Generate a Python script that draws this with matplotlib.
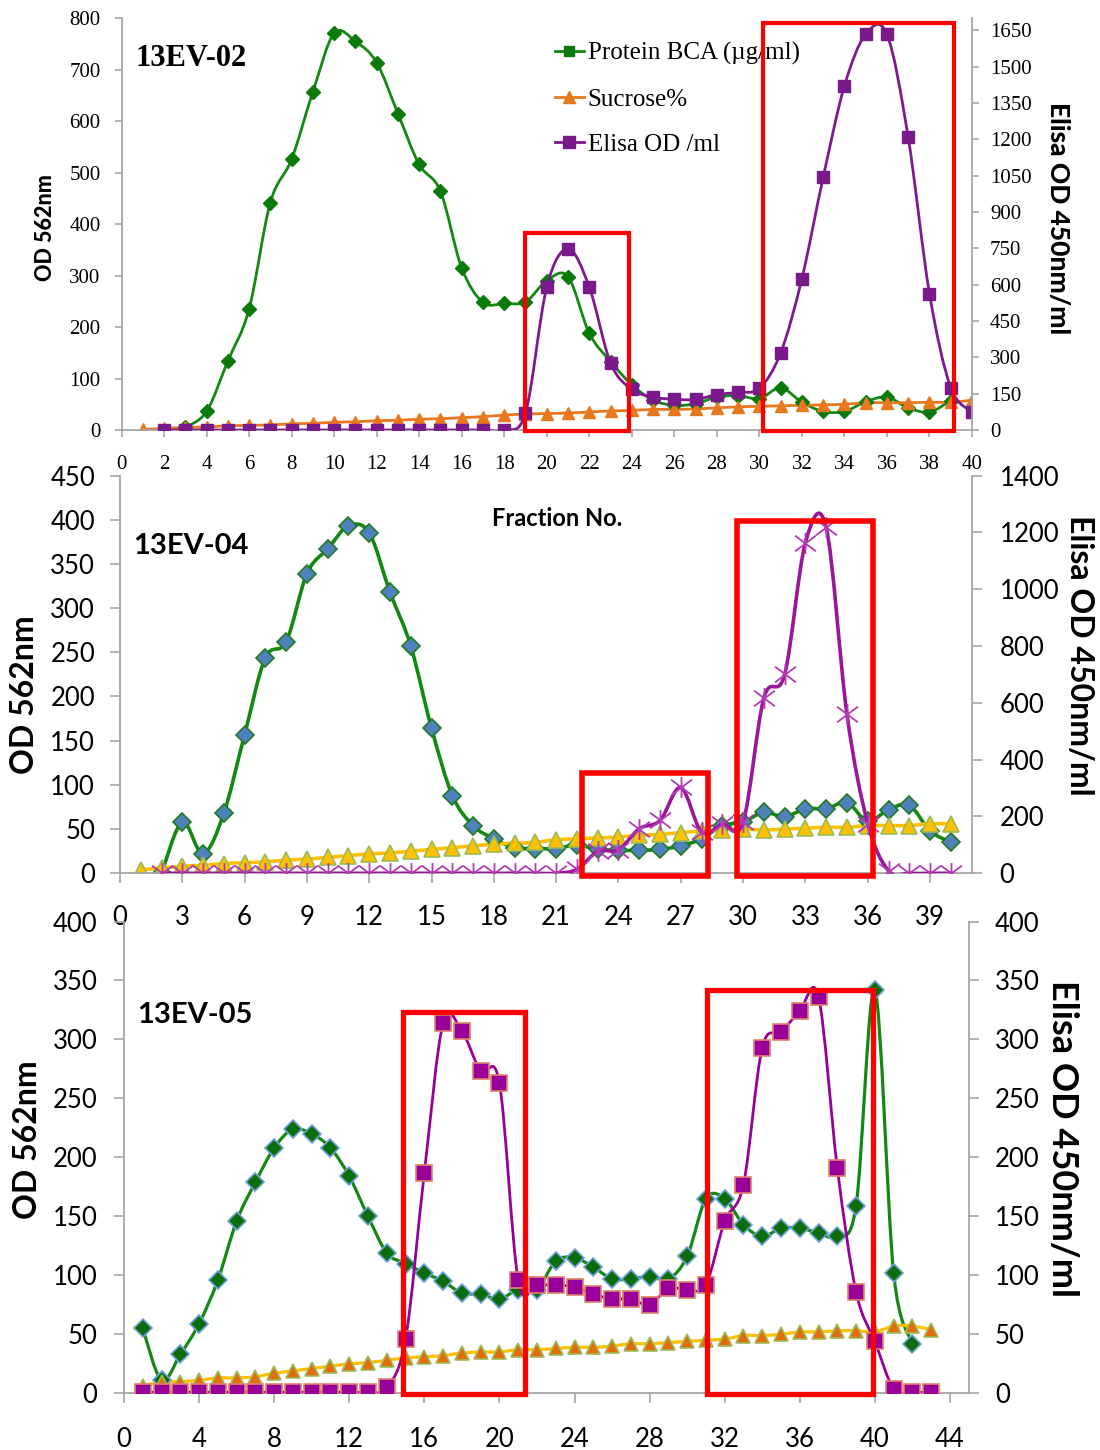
import numpy as np
import matplotlib
matplotlib.use("Agg")
import matplotlib.pyplot as plt
from matplotlib.path import Path
from matplotlib.patches import PathPatch, Rectangle
from matplotlib.lines import Line2D

W, H = 1100, 1450

# ---- 13EV-02 ----
ev02_frac = list(range(1, 41))
ev02_protein_frac = list(range(3, 40))
ev02_protein = [5, 36, 134, 235, 442, 526, 657, 771, 755, 714, 615, 516, 464, 315, 248, 246,
                249, 290, 298, 188, 133, 88, 58, 48, 51, 64, 67, 61, 82, 54, 36, 36, 55, 64,
                43, 35, 57]
ev02_sucrose = [1, 3, 5, 6, 8, 9, 10, 12, 13, 15, 16, 18, 19, 21, 22, 24, 26, 29, 31, 32,
                33, 35, 37, 38, 40, 40, 41, 43, 45, 46, 47, 48, 49, 50, 53, 53, 53, 54, 54, 58]
ev02_elisa_frac = list(range(2, 41))
ev02_elisa = [0] * 17 + [70, 590, 748, 590, 277, 168, 136, 127, 126, 146, 156, 172, 318,
                         625, 1043, 1421, 1634, 1634, 1208, 563, 175, 75]
ev02_boxes = [(18.98, 23.89, -1, 382), (30.19, 39.13, -1, 790)]

# ---- 13EV-04 ----
ev04_frac = list(range(1, 41))
ev04_protein_frac = list(range(2, 41))
ev04_protein = [0, 58, 22, 68, 157, 244, 262, 339, 367, 393, 385, 318, 257, 164, 88, 54, 39,
                29, 28, 28, 32, 27, 26, 26, 27, 31, 39, 54, 58, 69, 64, 73, 73, 80, 59, 72,
                77, 48, 35]
ev04_sucrose = [4, 6, 8, 9, 11, 12, 13, 15, 16, 18, 20, 22, 23, 25, 27, 29, 31, 33, 34, 35,
                38, 39, 40, 41, 43, 44, 46, 48, 49, 50, 49, 50, 51, 52, 52, 54, 54, 54, 56, 56]
ev04_elisa_frac = list(range(2, 41))
ev04_elisa = [0] * 20 + [14, 77, 83, 157, 186, 302, 145, 172, 180, 617, 700, 1164, 1217,
                         559, 175, 9, 0, 0, 0]
ev04_boxes = [(22.26, 28.33, -3, 113), (29.69, 36.27, -3, 398)]

# ---- 13EV-05 ----
ev05_frac = list(range(1, 44))
ev05_protein_frac = list(range(1, 43))
ev05_protein = [55, 11, 33, 59, 96, 146, 179, 208, 224, 220, 208, 184, 150, 119, 110, 102,
                95, 85, 84, 80, 88, 88, 112, 115, 107, 97, 97, 99, 97, 116, 165, 165, 143,
                133, 140, 140, 136, 133, 159, 342, 102, 42]
ev05_sucrose = [6, 10, 10, 11, 13, 13, 14, 17, 19, 21, 23, 25, 26, 28, 30, 31, 32, 34, 35,
                35, 37, 37, 38, 39, 39, 40, 42, 42, 43, 44, 45, 46, 49, 49, 50, 52, 52, 53,
                53, 52, 57, 57, 54]
ev05_elisa = [1] * 13 + [5, 46, 187, 314, 307, 273, 263, 96, 92, 92, 90, 84, 80, 80, 75, 89,
                         88, 92, 146, 177, 293, 306, 324, 336, 191, 86, 44, 4, 1, 1]
ev05_boxes = [(14.85, 21.36, -1, 323), (31.04, 39.92, -1, 342)]


def px_box(l, t, r, b):
    return [l / W, 1 - b / H, (r - l) / W, (b - t) / H]


def smooth_path(x, y):
    # smoothed line like Excel: bezier segments through the points
    x = np.asarray(x, float)
    y = np.asarray(y, float)
    n = len(x)
    verts = [(x[0], y[0])]
    codes = [Path.MOVETO]
    for i in range(n - 1):
        xa, ya = (x[i - 1], y[i - 1]) if i > 0 else (x[i], y[i])
        xb, yb = (x[i + 2], y[i + 2]) if i + 2 < n else (x[i + 1], y[i + 1])
        c1 = (x[i] + (x[i + 1] - xa) / 6, y[i] + (y[i + 1] - ya) / 6)
        c2 = (x[i + 1] - (xb - x[i]) / 6, y[i + 1] - (yb - y[i]) / 6)
        verts += [c1, c2, (x[i + 1], y[i + 1])]
        codes += [Path.CURVE4] * 3
    return Path(verts, codes)


def series(ax, x, y, color, lw, marker, ms, mfc, mec, mew=1.0, z=2):
    ax.add_patch(PathPatch(smooth_path(x, y), fill=False, ec=color, lw=lw, zorder=z,
                           capstyle='round', joinstyle='round'))
    ax.plot(x, y, ls='none', marker=marker, ms=ms, mfc=mfc, mec=mec, mew=mew, zorder=z + 0.1)


def frame(ax, axr, fam, fs, lpad, rpad, bpad, tlen):
    grey = '#a6a6a6'
    ax.patch.set_visible(False)
    for s in ['top', 'right']:
        ax.spines[s].set_visible(False)
    for s in ['top', 'left', 'bottom']:
        axr.spines[s].set_visible(False)
    for s in ['left', 'bottom']:
        ax.spines[s].set_color(grey)
        ax.spines[s].set_linewidth(1.3)
    axr.spines['right'].set_color(grey)
    axr.spines['right'].set_linewidth(1.3)
    ax.tick_params(axis='y', length=tlen, width=1.2, color=grey, pad=lpad, labelsize=fs)
    ax.tick_params(axis='x', length=tlen, width=1.2, color=grey, pad=bpad, labelsize=fs)
    axr.tick_params(axis='y', length=tlen, width=1.2, color=grey, pad=rpad, labelsize=fs)
    for t in ax.get_xticklabels() + ax.get_yticklabels() + axr.get_yticklabels():
        t.set_family(fam)


def boxes(ax, axr, spans, lw):
    for x0, x1, y0, y1 in spans:
        axr.add_patch(Rectangle((x0, y0), x1 - x0, y1 - y0, transform=ax.transData,
                                fill=False, ec='#ff0000', lw=lw, clip_on=False, zorder=6))


def ftext(x, y, s, **kw):
    fig.text(x / W, 1 - y / H, s, ha='center', va='center', **kw)


fig = plt.figure(figsize=(11, 14.5), dpi=100)

serif = 'Liberation Serif'
sans = 'Lato'

# ---------------- panel 1 : 13EV-02 ----------------
ax1 = fig.add_axes(px_box(121.5, 18.3, 972, 430))
ax1r = ax1.twinx()
ax1.set_xlim(0, 40)
ax1.set_ylim(0, 800)
ax1r.set_ylim(0, 1700)
ax1.set_xticks(range(0, 41, 2))
ax1.set_yticks(range(0, 801, 100))
ax1r.set_yticks(range(0, 1651, 150))

series(ax1, ev02_protein_frac, ev02_protein, '#138813', 2.0, 'D', 7.5, '#0b7a0b', '#0b7a0b')
series(ax1, ev02_frac, ev02_sucrose, '#e8781e', 2.0, '^', 8.5, '#e8781e', '#e8781e')
series(ax1r, ev02_elisa_frac, ev02_elisa, '#7e1a8e', 2.0, 's', 8.5, '#7a1a8a', '#7a1a8a')
frame(ax1, ax1r, serif, 15, 10, 8, 13, 5)
boxes(ax1, ax1r, ev02_boxes, 3.0)

handles = [Line2D([], [], color='#138813', lw=2, marker='s', ms=7, mfc='#0b7a0b', mec='#0b7a0b'),
           Line2D([], [], color='#e8781e', lw=2, marker='^', ms=8, mfc='#e8781e', mec='#e8781e'),
           Line2D([], [], color='#7e1a8e', lw=2, marker='s', ms=8, mfc='#7a1a8a', mec='#7a1a8a')]
ax1r.legend(handles, ['Protein BCA (\u00b5g/ml)', 'Sucrose%', 'Elisa OD /ml'],
            loc='upper left', bbox_to_anchor=(555 / W, 1 - 42 / H), bbox_transform=fig.transFigure,
            frameon=False, prop={'family': serif, 'size': 18}, handlelength=1.15,
            handletextpad=0.15, labelspacing=0.92, borderpad=0, borderaxespad=0)

ftext(191, 58, '13EV-02', family=serif, weight='bold', fontsize=22)
ftext(45, 228, 'OD 562nm', family=sans, weight='black', fontsize=15.5, rotation=90)
ftext(1058, 218, 'Elisa OD 450nm/ml', family=sans, weight='black', fontsize=19, rotation=270)

# ---------------- panel 2 : 13EV-04 ----------------
ax2 = fig.add_axes(px_box(120, 475.5, 971.6, 873.3))
ax2r = ax2.twinx()
ax2.set_xlim(0, 41)
ax2.set_ylim(0, 450)
ax2r.set_ylim(0, 1400)
ax2.set_xticks(range(0, 40, 3))
ax2.set_yticks(range(0, 451, 50))
ax2r.set_yticks(range(0, 1401, 200))

star = Path([(0, -1), (0, 1), (-1, -0.75), (1, 0.75), (-1, 0.75), (1, -0.75)],
            [Path.MOVETO, Path.LINETO, Path.MOVETO, Path.LINETO, Path.MOVETO, Path.LINETO])

series(ax2, ev04_protein_frac, ev04_protein, '#138813', 2.6, 'D', 9.5, '#4f81bd', '#1f7a1f', 1.2)
series(ax2, ev04_frac, ev04_sucrose, '#ffc000', 2.6, '^', 11, '#ffc000', '#9bbb59', 1.2)
series(ax2r, ev04_elisa_frac, ev04_elisa, '#9b169b', 2.6, star, 15, 'none', '#b23ab2', 1.3)
frame(ax2, ax2r, sans, 18.5, 11, 13, 16, 7)
boxes(ax2, ax2r, ev04_boxes, 4.0)

ftext(191, 546, '13EV-04', family=sans, weight='bold', fontsize=21)
ftext(557, 518, 'Fraction No.', family=sans, weight='bold', fontsize=17)
ftext(25, 695, 'OD 562nm', family=sans, weight='bold', fontsize=23, rotation=90)
ftext(1080, 655, 'Elisa OD 450nm/ml', family=sans, weight='bold', fontsize=23, rotation=270)

# ---------------- panel 3 : 13EV-05 ----------------
ax3 = fig.add_axes(px_box(124, 921.5, 968.7, 1393.3))
ax3r = ax3.twinx()
ax3.set_xlim(0, 45)
ax3.set_ylim(0, 400)
ax3r.set_ylim(0, 400)
ax3.set_xticks(range(0, 45, 4))
ax3.set_yticks(range(0, 401, 50))
ax3r.set_yticks(range(0, 401, 50))

series(ax3, ev05_protein_frac, ev05_protein, '#138813', 2.3, 'D', 9.5, '#0b6e0b', '#6fa0dc', 1.2)
series(ax3, ev05_frac, ev05_sucrose, '#ffc000', 2.3, '^', 10.5, '#e46c0a', '#9bbb59', 1.2)
series(ax3r, ev05_frac, ev05_elisa, '#990099', 2.0, 's', 11, '#990099', '#e0806a', 1.2)
frame(ax3, ax3r, sans, 18.5, 12, 12, 17, 7)
boxes(ax3, ax3r, ev05_boxes, 3.8)

ftext(195, 1015, '13EV-05', family=sans, weight='bold', fontsize=21)
ftext(28, 1140, 'OD 562nm', family=sans, weight='bold', fontsize=23, rotation=90)
ftext(1062, 1138, 'Elisa OD 450nm/ml', family=sans, weight='bold', fontsize=26, rotation=270)

fig.savefig('out.png', dpi=100)
